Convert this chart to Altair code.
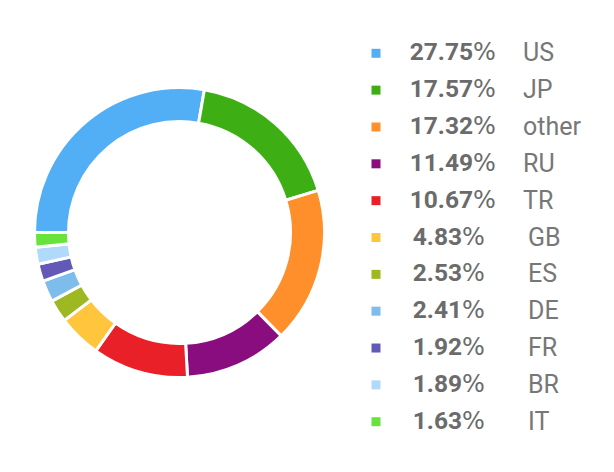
import math
import altair as alt
import pandas as pd

countries = ["US", "JP", "other", "RU", "TR", "GB", "ES", "DE", "FR", "BR", "IT"]
shares = [27.75, 17.57, 17.32, 11.49, 10.67, 4.83, 2.53, 2.41, 1.92, 1.89, 1.63]
colors = ["#52aef5", "#3daf14", "#ff8f2a", "#8a0d80", "#e92027", "#ffc53d",
          "#9db820", "#7dbdeb", "#6359b6", "#b1d9f9", "#67e33c"]

df = pd.DataFrame({"country": countries, "value": shares, "idx": list(range(len(countries)))})

color = alt.Color("country:N", scale=alt.Scale(domain=countries, range=colors), legend=None)
ypos = alt.Y("country:N", sort=countries, axis=None,
             scale=alt.Scale(type="point", padding=0, range=[45.3, 413.7]))

base = alt.Chart(df)

donut = base.mark_arc(innerRadius=111, outerRadius=145, stroke="white", strokeWidth=3).encode(
    theta=alt.Theta("value:Q", stack=True, scale=alt.Scale(range=[-math.pi / 2, 3 * math.pi / 2])),
    order=alt.Order("idx:Q"),
    color=color,
    x=alt.value(171.5),
    y=alt.value(224.5),
)

squares = base.mark_square(size=81, opacity=1).encode(
    x=alt.value(368), y=ypos, color=color
)

num_font = dict(font="Roboto", fontSize=24.5, baseline="middle", color="#6b6b6b")
pct_font = dict(font="DejaVu Sans", fontSize=24, baseline="middle", color="#6b6b6b")
lab_font = dict(font="Roboto", fontSize=25, baseline="middle", color="#777777")

big = base.transform_filter("datum.value >= 10")
small = base.transform_filter("datum.value < 10")

num_big = big.mark_text(align="right", fontWeight="bold", **num_font).encode(
    x=alt.value(465), y=ypos, text=alt.Text("value:Q", format=".2f"))
pct_big = big.mark_text(align="left", text="%", **pct_font).encode(x=alt.value(465), y=ypos)
lab_big = big.mark_text(align="left", **lab_font).encode(
    x=alt.value(515), y=ypos, text="country:N")

num_small = small.mark_text(align="right", fontWeight="bold", **num_font).encode(
    x=alt.value(454), y=ypos, text=alt.Text("value:Q", format=".2f"))
pct_small = small.mark_text(align="left", text="%", **pct_font).encode(x=alt.value(454), y=ypos)
lab_small = small.mark_text(align="left", **lab_font).encode(
    x=alt.value(520), y=ypos, text="country:N")

chart = alt.layer(donut, squares, num_big, pct_big, lab_big, num_small, pct_small, lab_small).properties(
    width=598, height=456, autosize=alt.AutoSizeParams(type="none"), padding=0
).configure_view(stroke=None)

chart.save("out.html", embed_options={"renderer": "svg", "actions": False})
